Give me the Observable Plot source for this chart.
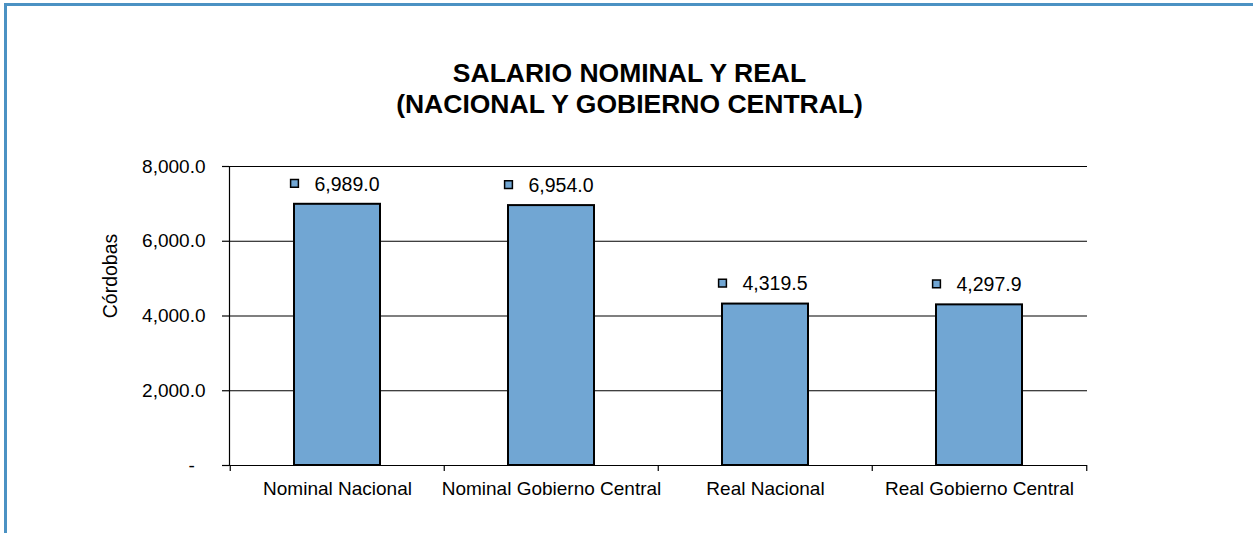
<!DOCTYPE html>
<html><head><meta charset="utf-8">
<script src="https://cdn.jsdelivr.net/npm/d3@7"></script>
<script src="https://cdn.jsdelivr.net/npm/@observablehq/plot@0.6"></script>
<style>
body{margin:0;background:#fff;font-family:"Liberation Sans",Arial,sans-serif;}
#wrap{position:relative;width:1253px;height:533px;overflow:hidden;background:#fff;}
#chart{position:absolute;left:0;top:0;}
#border{position:absolute;left:4px;top:3px;width:1400px;height:700px;border-top:3px solid #4b92c3;border-left:3px solid #4b92c3;pointer-events:none;}
#title{position:absolute;left:3px;width:1253px;top:58px;text-align:center;font-weight:bold;font-size:26.5px;line-height:31px;color:#000;}
</style></head>
<body><div id="wrap"><div id="chart"></div><div id="title">SALARIO NOMINAL Y REAL<br>(NACIONAL Y GOBIERNO CENTRAL)</div><div id="border"></div></div>
<script>
const categories = ["Nominal Nacional", "Nominal Gobierno Central", "Real Nacional", "Real Gobierno Central"];
const values = [6989.0, 6954.0, 4319.5, 4297.9];
const yTicks = [0, 2000, 4000, 6000, 8000];
const yLabel = "Córdobas";

const data = categories.map((c, i) => ({cat: c, value: values[i]}));
const fmt = d3.format(",.1f");
const W = 1253, H = 533, mL = 229, mR = 166, mT = 166, mB = 68;
const step = (W - mL - mR) / categories.length;
const barFill = "#71a6d3";
const font = "Liberation Sans, Arial, sans-serif";

const chart = Plot.plot({
  width: W, height: H,
  marginLeft: mL, marginRight: mR, marginTop: mT, marginBottom: mB,
  style: {fontFamily: font, background: "transparent", color: "#000"},
  x: {domain: categories, paddingInner: 0.597, paddingOuter: 0.2985, align: 0.5},
  y: {domain: [0, 8000]},
  marks: [
    Plot.ruleY(yTicks, {stroke: "#000", strokeWidth: 1.2}),
    Plot.frame({anchor: "left", stroke: "#000", strokeWidth: 1.2}),
    Plot.axisY({ticks: yTicks, tickSize: 7, tickPadding: 17, fontSize: 19, label: null,
      stroke: "#000", strokeWidth: 1.2,
      tickFormat: d => d === 0 ? "-\u00a0\u00a0" : fmt(d)}),
    Plot.axisX({tickSize: 6, tickFormat: () => "", dx: -step / 2, label: null, stroke: "#000", strokeWidth: 1.2}),
    Plot.axisX({ticks: [categories[categories.length - 1]], tickSize: 6, tickFormat: () => "", dx: step / 2, label: null, stroke: "#000", strokeWidth: 1.2}),
    Plot.axisX({tickSize: 0, tickPadding: 16, fontSize: 19, label: null}),
    Plot.barY(data, {x: "cat", y: "value", fill: barFill, stroke: "#000", strokeWidth: 2}),
    Plot.dot(data, {x: "cat", y: "value", symbol: "square", r: 4.4, dx: -43, dy: -21, fill: barFill, stroke: "#000", strokeWidth: 1.5}),
    Plot.text(data, {x: "cat", y: "value", text: d => fmt(d.value), dx: -23, dy: -20, textAnchor: "start", fontSize: 19.5, fill: "#000"}),
    Plot.text([yLabel], {text: d => d, frameAnchor: "left", textAnchor: "middle", rotate: -90, dx: -119, dy: -40, fontSize: 19.5, fill: "#000"})
  ]
});
document.getElementById("chart").appendChild(chart);
</script>
</body></html>
